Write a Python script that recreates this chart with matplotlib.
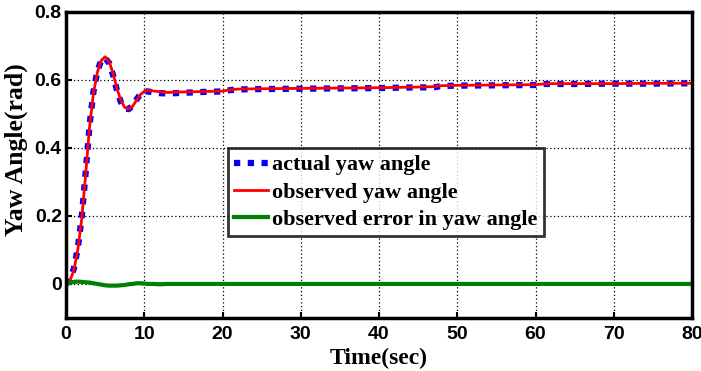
import matplotlib
matplotlib.use("Agg")
import matplotlib.pyplot as plt
from matplotlib.font_manager import FontProperties

# time samples (sec)
t = [0, 0.5, 1, 1.5, 2, 2.5, 3, 3.5, 4, 4.5, 5, 5.5, 6, 6.5, 7, 7.5, 8, 8.5,
     9, 9.5, 10, 10.5, 11, 12, 13, 14, 16, 18, 20, 21, 22, 25, 30, 35, 40,
     45, 47, 48, 50, 55, 60, 61, 62, 65, 70, 75, 80]

# actual yaw angle (rad)
yaw_actual = [0, 0.012, 0.045, 0.105, 0.195, 0.325, 0.465, 0.565, 0.625, 0.658,
              0.664, 0.650, 0.615, 0.570, 0.535, 0.516, 0.514, 0.524, 0.542,
              0.558, 0.566, 0.566, 0.564, 0.561, 0.560, 0.561, 0.563, 0.565,
              0.566, 0.570, 0.572, 0.573, 0.574, 0.575, 0.576, 0.578, 0.578,
              0.582, 0.583, 0.584, 0.585, 0.588, 0.588, 0.588, 0.589, 0.589, 0.590]

# observed yaw angle (rad)
yaw_observed = [0, 0.010, 0.040, 0.100, 0.190, 0.320, 0.460, 0.560, 0.622, 0.657,
                0.668, 0.655, 0.620, 0.575, 0.540, 0.519, 0.514, 0.522, 0.540,
                0.557, 0.566, 0.569, 0.568, 0.565, 0.563, 0.564, 0.565, 0.566,
                0.567, 0.571, 0.573, 0.574, 0.575, 0.576, 0.577, 0.579, 0.580,
                0.583, 0.584, 0.585, 0.586, 0.588, 0.589, 0.589, 0.589, 0.590, 0.590]

# observation error (rad)
yaw_error = [0, 0.003, 0.006, 0.007, 0.006, 0.005, 0.004, 0.002, 0.000, -0.002,
             -0.004, -0.005, -0.005, -0.005, -0.004, -0.003, -0.001, 0.000,
             0.002, 0.002, 0.001, 0.000, 0.000, -0.001, 0.000, 0.000, 0.000,
             0.000, 0.000, 0.000, 0.000, 0.000, 0.000, 0.000, 0.000, 0.000,
             0.000, 0.000, 0.000, 0.000, 0.000, 0.000, 0.000, 0.000, 0.000,
             0.000, 0.000]

xticks = [0, 10, 20, 30, 40, 50, 60, 70, 80]
yticks = [0, 0.2, 0.4, 0.6, 0.8]
ytick_labels = ["0", "0.2", "0.4", "0.6", "0.8"]

fig = plt.figure(figsize=(7.01, 3.71), dpi=100)
ax = fig.add_axes([0.0942, 0.143, 0.893, 0.825])

ax.plot(t, yaw_actual, color="#0000ff", linestyle=(0, (1, 1.2)), linewidth=4.5,
        label="actual yaw angle")
ax.plot(t, yaw_observed, color="#ff0000", linewidth=2, label="observed yaw angle")
ax.plot(t, yaw_error, color="#008000", linewidth=3,
        label="observed error in yaw angle")

ax.set_xlim(0, 80)
ax.set_ylim(-0.1, 0.8)
ax.set_xticks(xticks)
ax.set_yticks(yticks)
ax.set_yticklabels(ytick_labels)

tick_font = FontProperties(family="Liberation Sans", weight="bold", size=14)
for lab in ax.get_xticklabels() + ax.get_yticklabels():
    lab.set_fontproperties(tick_font)

ax.tick_params(direction="in", length=4, width=1.5)
ax.tick_params(axis="x", pad=6)
ax.tick_params(axis="y", pad=3)
ax.grid(True, color="black", linestyle=(0, (1, 2)), linewidth=0.9)
for sp in ax.spines.values():
    sp.set_linewidth(2.5)

ax.set_xlabel("Time(sec)", family="Liberation Serif", weight="bold",
              size=17, labelpad=3)
ax.set_ylabel("Yaw Angle(rad)", family="Liberation Serif", weight="bold",
              size=18.5)
ax.yaxis.set_label_coords(-0.061, 0.55)

leg = ax.legend(loc="upper left", bbox_to_anchor=(0.258, 0.555),
                prop=dict(family="Liberation Serif", weight="bold", size=16),
                frameon=True, fancybox=False, handlelength=1.5,
                handletextpad=0.2, borderpad=0.3, labelspacing=0.3,
                borderaxespad=0)
leg.get_frame().set_edgecolor("black")
leg.get_frame().set_linewidth(2)

fig.savefig("out.png", dpi=100)
